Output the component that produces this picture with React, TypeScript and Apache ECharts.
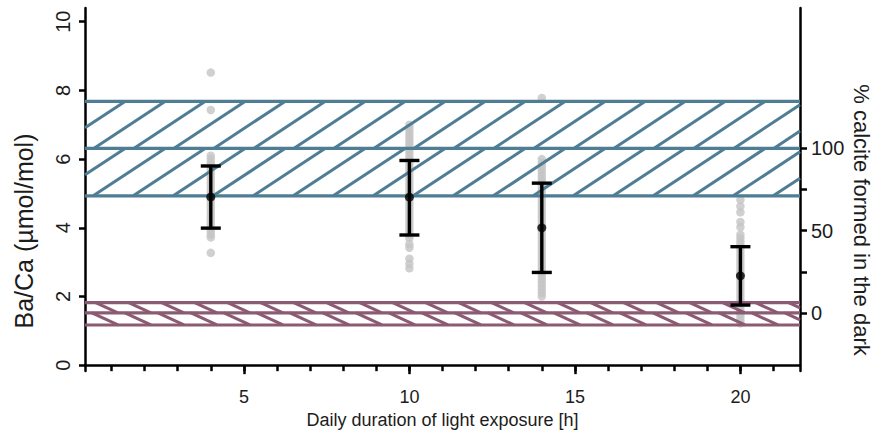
import React, { useEffect, useRef } from "react";
import * as echarts from "echarts";

// ---- data ----
const hours = [4, 10, 14, 20];
const ratios4 = [8.52, 7.43, 6.1, 6.0, 5.9, 5.8, 5.7, 5.6, 5.5, 5.4, 5.3, 5.2, 5.1, 5.0, 4.9, 4.8, 4.7, 4.6, 4.5, 4.4, 4.3, 4.2, 4.1, 4.0, 3.9, 3.8, 3.72, 3.27];
const ratios10 = [7.0, 6.9, 6.8, 6.7, 6.6, 6.5, 6.4, 6.3, 6.2, 6.1, 6.0, 5.9, 5.8, 5.7, 5.6, 5.5, 5.4, 5.3, 5.2, 5.1, 5.0, 4.9, 4.8, 4.7, 4.6, 4.5, 4.4, 4.3, 4.2, 4.1, 4.0, 3.9, 3.8, 3.7, 3.52, 3.42, 3.1, 2.95, 2.82];
const ratios14 = [7.78, 6.0, 5.9, 5.8, 5.7, 5.6, 5.5, 5.4, 5.3, 5.2, 5.1, 5.0, 4.9, 4.8, 4.7, 4.6, 4.5, 4.4, 4.3, 4.2, 4.1, 4.0, 3.9, 3.8, 3.7, 3.6, 3.5, 3.4, 3.3, 3.2, 3.1, 3.0, 2.9, 2.8, 2.7, 2.6, 2.5, 2.4, 2.3, 2.2, 2.1, 2.0];
const ratios20 = [4.81, 4.62, 4.45, 4.17, 4.02, 3.8, 3.7, 3.6, 3.5, 3.4, 3.3, 3.2, 3.1, 3.0, 2.9, 2.8, 2.7, 2.6, 2.5, 2.4, 2.3, 2.2, 2.1, 2.0, 1.9, 1.8, 1.7, 1.6, 1.5, 1.4, 1.3, 1.22];
const means = [4.9, 4.89, 4.0, 2.6];
const upper = [5.8, 5.96, 5.3, 3.45];
const lower = [3.99, 3.79, 2.7, 1.75];
const lightBand = [4.93, 6.31, 7.68]; // 100 % calcite formed in the dark reference
const darkBand = [1.17, 1.52, 1.82]; // 0 % reference
const yTicks = [0, 2, 4, 6, 8, 10];
const xMajorTicks = [5, 10, 15, 20];
const xMinorTicks = [1, 2, 3, 4, 5, 6, 7, 8, 9, 10, 11, 12, 13, 14, 15, 16, 17, 18, 19, 20, 21];
const pctTicks = [0, 25, 50, 75, 100];
const pctLabels = [0, 50, 100];

const FONT = "Liberation Sans, Arial, sans-serif";
const TEAL = "#4f7e94";
const MAUVE = "#8b5a73";
const TEXT = "#1c1c1c";

const pctToRatio = (p: number) => darkBand[1] + (p / 100) * (lightBand[1] - darkBand[1]);
const ratioToPct = (v: number) => ((v - darkBand[1]) / (lightBand[1] - darkBand[1])) * 100;

const bandStyles = [
  { color: TEAL, dir: 1, spacing: 40, slope: 0.66, width: 3 },
  { color: MAUVE, dir: -1, spacing: 33, slope: 0.46, width: 3 },
];

function clipSeg(xa: number, ya: number, xb: number, yb: number, left: number, right: number) {
  if (xb < left || xa > right) return null;
  const t0 = Math.max(0, (left - xa) / (xb - xa));
  const t1 = Math.min(1, (right - xa) / (xb - xa));
  return {
    x1: xa + (xb - xa) * t0,
    y1: ya + (yb - ya) * t0,
    x2: xa + (xb - xa) * t1,
    y2: ya + (yb - ya) * t1,
  };
}

export default function App() {
  const ref = useRef<HTMLDivElement>(null);
  useEffect(() => {
    if (!ref.current) return;
    const chart = echarts.init(ref.current, undefined, { renderer: "svg" });

    const groups = [ratios4, ratios10, ratios14, ratios20];
    const dots: number[][] = [];
    groups.forEach((arr, i) => arr.forEach((v) => dots.push([hours[i], v])));

    const bandData = [
      [lightBand[0], lightBand[1], lightBand[2], 0, 10],
      [darkBand[0], darkBand[1], darkBand[2], 1, 10],
    ];
    const errData = hours.map((h, i) => [h, lower[i], upper[i]]);
    const meanData = hours.map((h, i) => [h, means[i]]);

    const axisLine = { show: true, lineStyle: { color: "#000", width: 2.5 } };

    chart.setOption({
      animation: false,
      backgroundColor: "#fff",
      grid: { left: 85, right: 72, top: 8, bottom: 65, containLabel: false },
      xAxis: [
        {
          type: "value",
          min: 0.2,
          max: 21.8,
          position: "bottom",
          axisLine,
          splitLine: { show: false },
          axisTick: { show: true, customValues: xMinorTicks, length: 6, lineStyle: { color: "#000", width: 2.5 } },
          axisLabel: { customValues: xMajorTicks, fontSize: 18, color: TEXT, margin: 17, fontFamily: FONT },
          name: "Daily duration of light exposure [h]",
          nameLocation: "middle",
          nameGap: 40,
          nameTextStyle: { fontSize: 18, color: TEXT, fontFamily: FONT },
        },
        {
          type: "value",
          min: 0.2,
          max: 21.8,
          position: "bottom",
          offset: 0,
          axisLine: { show: false },
          splitLine: { show: false },
          axisTick: { show: true, customValues: xMajorTicks, length: 9, lineStyle: { color: "#000", width: 2.5 } },
          axisLabel: { show: false },
        },
      ],
      yAxis: [
        {
          type: "value",
          min: -0.17,
          max: 10.4,
          position: "left",
          axisLine,
          splitLine: { show: false },
          axisTick: { show: true, customValues: yTicks, length: 6, lineStyle: { color: "#000", width: 2.5 } },
          axisLabel: { customValues: yTicks, rotate: 90, fontSize: 20, color: TEXT, margin: 12, fontFamily: FONT },
        },
        {
          type: "value",
          min: -0.17,
          max: 10.4,
          position: "right",
          axisLine,
          splitLine: { show: false },
          axisTick: { show: true, customValues: pctTicks.map(pctToRatio), length: 7, lineStyle: { color: "#000", width: 2.5 } },
          axisLabel: {
            customValues: pctLabels.map(pctToRatio),
            formatter: (v: number) => String(Math.round(ratioToPct(v))),
            fontSize: 20,
            color: TEXT,
            margin: 11,
            fontFamily: FONT,
          },
        },
      ],
      graphic: [
        {
          type: "text",
          x: 24,
          y: 231,
          rotation: Math.PI / 2,
          style: { text: "Ba/Ca (µmol/mol)", fontSize: 25, fill: TEXT, fontFamily: FONT, textAlign: "center", textVerticalAlign: "middle" },
        },
        {
          type: "text",
          x: 861,
          y: 220,
          rotation: -Math.PI / 2,
          style: { text: "% calcite formed in the dark", fontSize: 22, fill: TEXT, fontFamily: FONT, textAlign: "center", textVerticalAlign: "middle" },
        },
      ],
      series: [
        {
          type: "scatter",
          data: dots,
          symbolSize: 8.5,
          itemStyle: { color: "#c4c4c4" },
          z: 1,
        },
        {
          type: "custom",
          data: bandData,
          encode: { x: 4, y: [0, 1, 2] },
          z: 2,
          silent: true,
          renderItem: (params: any, api: any) => {
            const cs = params.coordSys;
            const left = cs.x;
            const right = cs.x + cs.width;
            const st = bandStyles[api.value(3)];
            const ys = [0, 1, 2].map((k) => api.coord([10, api.value(k)])[1]);
            const children: any[] = [];
            for (let s = 0; s < 2; s++) {
              const yBot = ys[s];
              const yTop = ys[s + 1];
              const h = yBot - yTop;
              const dx = h / st.slope;
              for (let x0 = left - dx - st.spacing; x0 < right; x0 += st.spacing) {
                const seg =
                  st.dir > 0
                    ? clipSeg(x0, yBot, x0 + dx, yTop, left, right)
                    : clipSeg(x0, yTop, x0 + dx, yBot, left, right);
                if (seg) {
                  children.push({
                    type: "line",
                    shape: seg,
                    style: { stroke: st.color, lineWidth: st.width },
                  });
                }
              }
            }
            ys.forEach((y) => {
              children.push({
                type: "line",
                shape: { x1: left, y1: y, x2: right, y2: y },
                style: { stroke: st.color, lineWidth: 3.2 },
              });
            });
            return { type: "group", children };
          },
        },
        {
          type: "custom",
          data: errData,
          encode: { x: 0, y: [1, 2] },
          z: 3,
          renderItem: (params: any, api: any) => {
            const lo = api.coord([api.value(0), api.value(1)]);
            const hi = api.coord([api.value(0), api.value(2)]);
            const hw = 10;
            const style = { stroke: "#000", lineWidth: 3.4 };
            return {
              type: "group",
              children: [
                { type: "line", shape: { x1: lo[0], y1: lo[1], x2: hi[0], y2: hi[1] }, style },
                { type: "line", shape: { x1: lo[0] - hw, y1: lo[1], x2: lo[0] + hw, y2: lo[1] }, style },
                { type: "line", shape: { x1: hi[0] - hw, y1: hi[1], x2: hi[0] + hw, y2: hi[1] }, style },
              ],
            };
          },
        },
        {
          type: "scatter",
          data: meanData,
          symbolSize: 9,
          itemStyle: { color: "#000" },
          z: 4,
        },
      ],
    });
    return () => chart.dispose();
  }, []);
  return <div ref={ref} style={{ position: "fixed", left: 0, top: 0, width: 872, height: 436 }} />;
}
